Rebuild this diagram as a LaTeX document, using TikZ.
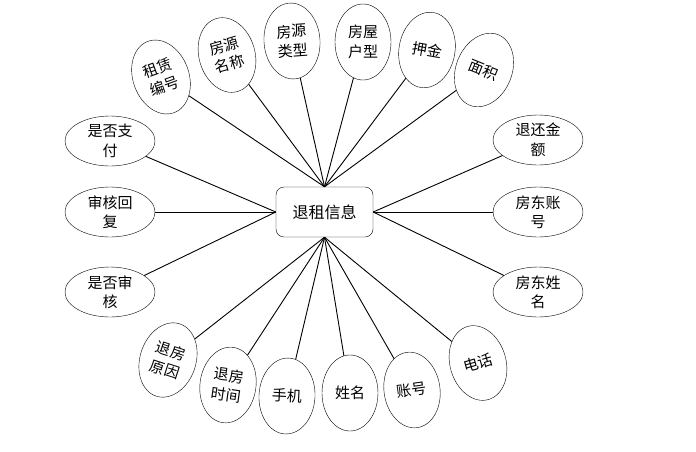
\documentclass[tikz,border=0pt]{standalone}
\usepackage{fontspec}
\newfontfamily\cjk{Noto Sans CJK SC}
\usetikzlibrary{shapes.geometric}
\tikzset{
	attr/.style = {ellipse, draw, thin, inner sep=0pt, align=center, font=\cjk\fontsize{15}{19.5}\selectfont},
	vattr/.style = {attr, minimum width=56pt, minimum height=76pt},
	hattr/.style = {attr, minimum width=90pt, minimum height=50pt},
	entity/.style = {draw, thin, rounded corners=8pt, minimum width=97pt, minimum height=50pt, font=\cjk\fontsize{16}{19}\selectfont},
	link/.style = {line width=0.9pt}
}
\begin{document}
\begin{tikzpicture}[x=1pt, y=-1pt]
		\useasboundingbox (0,0) rectangle (696,451);
		\node [entity] (info) at (324.5,212) {退租信息};
		% top
		\node [vattr, rotate=20] (zlbh) at (161,77) {租赁\\编号};
		\node [vattr, rotate=16] (fymc) at (227,55) {房源\\名称};
		\node [vattr, rotate=4] (fylx) at (292,41) {房源\\类型};
		\node [vattr] (fwhx) at (363,42) {房屋\\户型};
		\node [vattr, rotate=-10] (yj) at (427,50) {押金};
		\node [vattr, rotate=-22] (mj) at (484,70) {面积};
		% right
		\node [hattr] (thje) at (538,140) {退还金\\额};
		\node [hattr] (fdzh) at (538,212) {房东账\\号};
		\node [hattr] (fdxm) at (538,292) {房东姓\\名};
		% left
		\node [hattr] (sfzf) at (110,141) {是否支\\付};
		\node [hattr] (shhf) at (110,212) {审核回\\复};
		\node [hattr] (sfsh) at (110,292) {是否审\\核};
		% bottom
		\node [vattr, rotate=-18] (tfyy) at (168,360) {退房\\原因};
		\node [vattr, rotate=-8] (tfsj) at (228,385) {退房\\时间};
		\node [vattr, rotate=-3] (sj) at (287,396) {手机};
		\node [vattr] (xm) at (350,393) {姓名};
		\node [vattr, rotate=8] (zh) at (412,390) {账号};
		\node [vattr, rotate=16] (dh) at (478,363) {电话};
		\foreach \n in {zlbh, fymc, fylx, fwhx, yj, mj}
			\draw [link] (\n) -- (info.north);
		\foreach \n in {thje, fdzh, fdxm}
			\draw [link] (\n) -- (info.east);
		\foreach \n in {sfzf, shhf, sfsh}
			\draw [link] (\n) -- (info.west);
		\foreach \n in {tfyy, tfsj, sj, xm, zh, dh}
			\draw [link] (\n) -- (info.south);
	\end{tikzpicture}
\end{document}
